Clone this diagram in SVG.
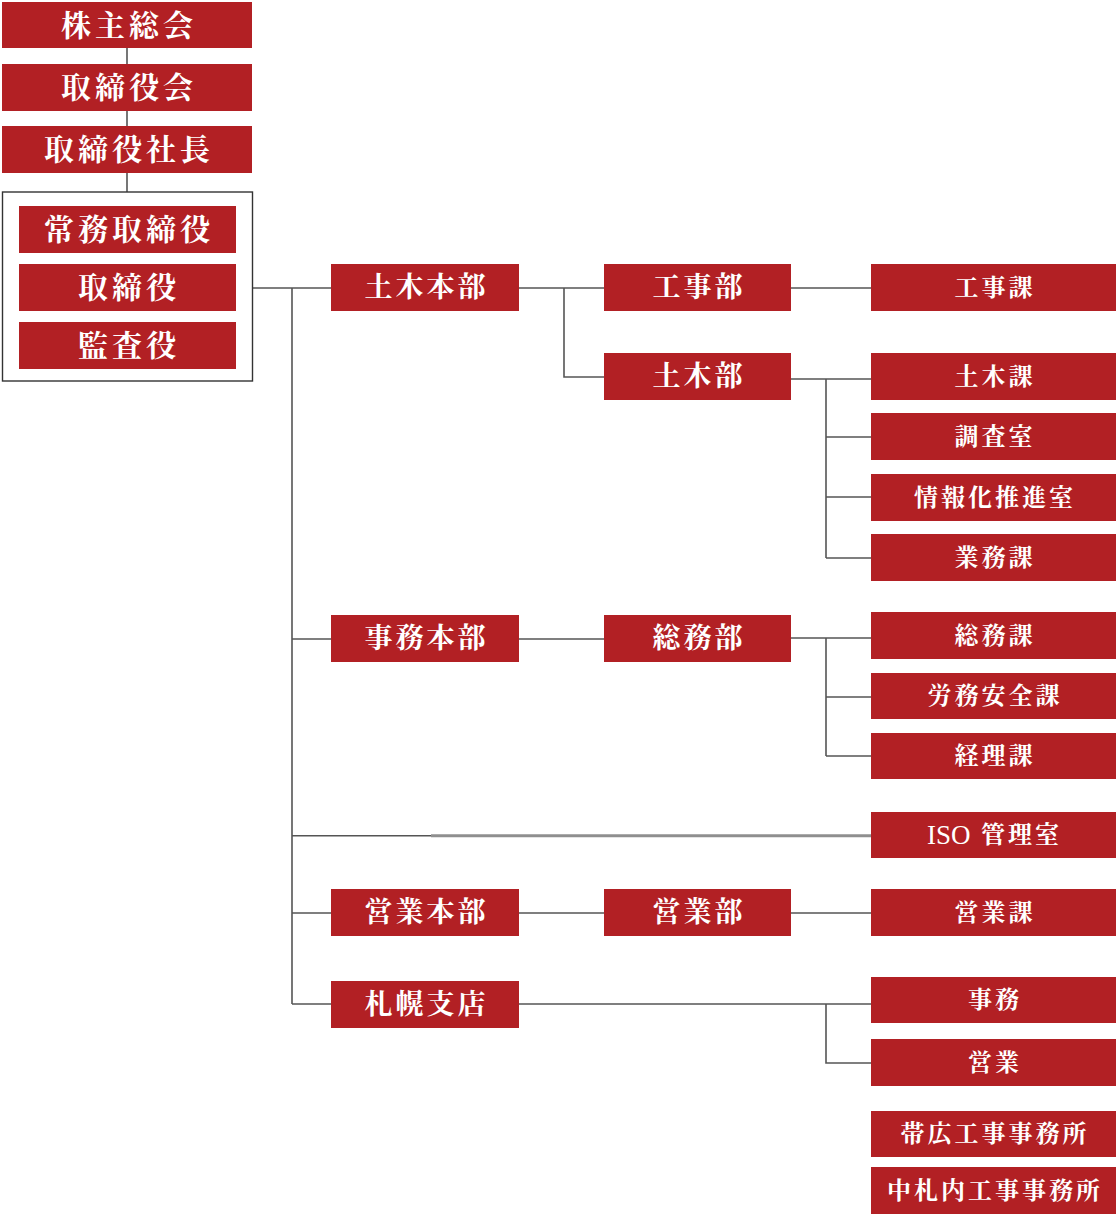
<svg xmlns="http://www.w3.org/2000/svg" width="1118" height="1219" viewBox="0 0 1118 1219">
<style>
  .box { fill: #b22024; }
  .t { fill: #ffffff; font-family: "Liberation Serif", "Noto Serif CJK JP", "Noto Sans CJK JP", serif; font-weight: 700; text-anchor: middle; dominant-baseline: central; }
  .t1 { font-size: 30px; letter-spacing: 4px; }
  .t2 { font-size: 28px; letter-spacing: 3px; }
  .t3 { font-size: 24px; letter-spacing: 3px; }
  .ln { fill: none; stroke: #555555; stroke-width: 1.6; }
  .frame { fill: none; stroke: #333333; stroke-width: 1.4; }
</style>
<rect x="0" y="0" width="1118" height="1219" fill="#ffffff"/>

<g id="connectors">
  <path class="ln" d="M127 48 V64 M127 111 V126 M127 173 V192"/>
  <path class="ln" d="M252 288 H331 M292 288 V1004 M292 639 H331 M292 913 H331 M292 1004 H331"/>
  <path class="ln" d="M292 835.8 H431"/>
  <path fill="none" stroke="#8f8f8f" stroke-width="3" d="M431 835.7 H871"/>
  <path class="ln" d="M519 288 H604 M564 288 V377 H604"/>
  <path class="ln" d="M791 288 H871"/>
  <path class="ln" d="M791 379 H871 M826 379 V558 M826 437 H871 M826 497 H871 M826 558 H871"/>
  <path class="ln" d="M519 639 H604 M791 638 H871 M826 638 V756 M826 697 H871 M826 756 H871"/>
  <path class="ln" d="M519 913 H604 M791 913 H871"/>
  <path class="ln" d="M519 1004 H871 M826 1004 V1063 H871"/>
</g>

<g id="n-kabunushi"><rect class="box" x="2" y="2" width="250" height="46"/><text class="t t1" x="129" y="25">株主総会</text></g>
<g id="n-torishimariyakukai"><rect class="box" x="2" y="64" width="250" height="47"/><text class="t t1" x="129" y="87.5">取締役会</text></g>
<g id="n-shacho"><rect class="box" x="2" y="126" width="250" height="47"/><text class="t t1" x="129" y="149.5">取締役社長</text></g>

<g id="n-board">
  <rect class="frame" x="2.5" y="192" width="250" height="189"/>
  <g id="n-jomu"><rect class="box" x="19" y="206" width="217" height="47"/><text class="t t1" x="129" y="229.5">常務取締役</text></g>
  <g id="n-torishimariyaku"><rect class="box" x="19" y="264" width="217" height="47"/><text class="t t1" x="129" y="287.5">取締役</text></g>
  <g id="n-kansayaku"><rect class="box" x="19" y="322" width="217" height="47"/><text class="t t1" x="129" y="345.5">監査役</text></g>
</g>

<g id="n-doboku-honbu"><rect class="box" x="331" y="264" width="188" height="47"/><text class="t t2" x="426.5" y="287.5">土木本部</text></g>
<g id="n-jimu-honbu"><rect class="box" x="331" y="615" width="188" height="47"/><text class="t t2" x="426.5" y="638.5">事務本部</text></g>
<g id="n-eigyo-honbu"><rect class="box" x="331" y="889" width="188" height="47"/><text class="t t2" x="426.5" y="912.5">営業本部</text></g>
<g id="n-sapporo"><rect class="box" x="331" y="981" width="188" height="47"/><text class="t t2" x="426.5" y="1004.5">札幌支店</text></g>

<g id="n-koji-bu"><rect class="box" x="604" y="264" width="187" height="47"/><text class="t t2" x="699" y="287.5">工事部</text></g>
<g id="n-doboku-bu"><rect class="box" x="604" y="353" width="187" height="47"/><text class="t t2" x="699" y="376.5">土木部</text></g>
<g id="n-somu-bu"><rect class="box" x="604" y="615" width="187" height="47"/><text class="t t2" x="699" y="638.5">総務部</text></g>
<g id="n-eigyo-bu"><rect class="box" x="604" y="889" width="187" height="47"/><text class="t t2" x="699" y="912.5">営業部</text></g>

<g id="n-koji-ka"><rect class="box" x="871" y="264" width="245" height="47"/><text class="t t3" x="995" y="287.5">工事課</text></g>
<g id="n-doboku-ka"><rect class="box" x="871" y="353" width="245" height="47"/><text class="t t3" x="995" y="376.5">土木課</text></g>
<g id="n-chosa"><rect class="box" x="871" y="413" width="245" height="47"/><text class="t t3" x="995" y="436.5">調査室</text></g>
<g id="n-joho"><rect class="box" x="871" y="474" width="245" height="47"/><text class="t t3" x="995" y="497.5">情報化推進室</text></g>
<g id="n-gyomu"><rect class="box" x="871" y="534" width="245" height="47"/><text class="t t3" x="995" y="557.5">業務課</text></g>
<g id="n-somu-ka"><rect class="box" x="871" y="612" width="245" height="47"/><text class="t t3" x="995" y="635.5">総務課</text></g>
<g id="n-romu"><rect class="box" x="871" y="673" width="245" height="46"/><text class="t t3" x="995" y="696">労務安全課</text></g>
<g id="n-keiri"><rect class="box" x="871" y="733" width="245" height="46"/><text class="t t3" x="995" y="756">経理課</text></g>
<g id="n-iso"><rect class="box" x="871" y="812" width="245" height="46"/><text class="t t3" x="927" y="835" style="text-anchor:start"><tspan style="font-size:27px;letter-spacing:0px;font-weight:400">ISO</tspan><tspan x="981">管理室</tspan></text></g>
<g id="n-eigyo-ka"><rect class="box" x="871" y="889" width="245" height="47"/><text class="t t3" x="995" y="912.5">営業課</text></g>
<g id="n-jimu"><rect class="box" x="871" y="977" width="245" height="46"/><text class="t t3" x="995" y="1000">事務</text></g>
<g id="n-eigyo"><rect class="box" x="871" y="1039" width="245" height="47"/><text class="t t3" x="995" y="1062.5">営業</text></g>
<g id="n-obihiro"><rect class="box" x="871" y="1111" width="245" height="46"/><text class="t t3" x="995" y="1134">帯広工事事務所</text></g>
<g id="n-nakasatsunai"><rect class="box" x="871" y="1167" width="245" height="47"/><text class="t t3" x="995" y="1190.5">中札内工事事務所</text></g>
</svg>
